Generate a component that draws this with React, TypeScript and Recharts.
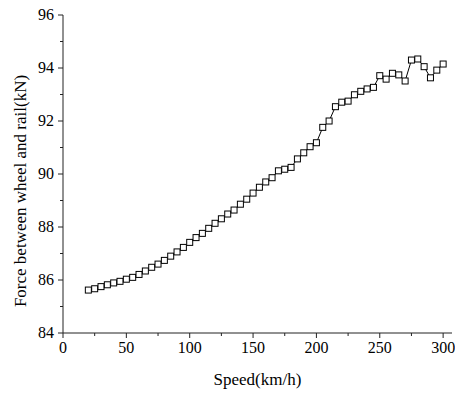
import { LineChart, Line, XAxis, YAxis, Label } from "recharts";

const speeds = [
  20, 25, 30, 35, 40, 45, 50, 55, 60, 65, 70, 75, 80, 85, 90, 95, 100, 105,
  110, 115, 120, 125, 130, 135, 140, 145, 150, 155, 160, 165, 170, 175, 180,
  185, 190, 195, 200, 205, 210, 215, 220, 225, 230, 235, 240, 245, 250, 255,
  260, 265, 270, 275, 280, 285, 290, 295, 300,
];

const forces = [
  85.62, 85.67, 85.75, 85.82, 85.89, 85.95, 86.03, 86.1, 86.21, 86.34, 86.48,
  86.6, 86.74, 86.9, 87.06, 87.23, 87.42, 87.6, 87.76, 87.95, 88.14, 88.31,
  88.49, 88.64, 88.86, 89.05, 89.28, 89.5, 89.7, 89.86, 90.12, 90.18, 90.25,
  90.57, 90.8, 91.03, 91.18, 91.76, 92.0, 92.54, 92.71, 92.75, 92.99, 93.12,
  93.21, 93.27, 93.71, 93.58, 93.8, 93.74, 93.51, 94.3, 94.34, 94.05, 93.63,
  93.92, 94.15,
];

const xTicks = [0, 25, 50, 75, 100, 125, 150, 175, 200, 225, 250, 275, 300];
const yTicks = [84, 85, 86, 87, 88, 89, 90, 91, 92, 93, 94, 95, 96];

const data = speeds.map((s, i) => ({ speed: s, force: forces[i] }));

const font = "'Liberation Serif', 'Times New Roman', serif";

function XTick({ x, y, payload }: any) {
  const major = payload.value % 50 === 0;
  return (
    <g>
      <line x1={x} x2={x} y1={y} y2={y + (major ? 5 : 3)} stroke="#222" />
      {major && (
        <text x={x} y={y + 20} textAnchor="middle" fontFamily={font} fontSize={16} fill="#000">
          {payload.value}
        </text>
      )}
    </g>
  );
}

function YTick({ x, y, payload }: any) {
  const major = payload.value % 2 === 0;
  return (
    <g>
      <line x1={x} x2={x - (major ? 5 : 3)} y1={y} y2={y} stroke="#222" />
      {major && (
        <text x={x - 9} y={y + 5} textAnchor="end" fontFamily={font} fontSize={16} fill="#000">
          {payload.value}
        </text>
      )}
    </g>
  );
}

function Square(props: any) {
  const { cx, cy, index } = props;
  return (
    <rect key={`sq-${index}`} x={cx - 3} y={cy - 3} width={6} height={6} fill="#fff" stroke="#000" strokeWidth={1} />
  );
}

export default function App() {
  return (
    <div style={{ position: "absolute", left: 0, top: 0, background: "#fff" }}>
      <LineChart width={455} height={394} data={data} margin={{ top: 15, right: 3, left: 0, bottom: 0 }}>
        <XAxis
          dataKey="speed"
          type="number"
          domain={[0, 307]}
          ticks={xTicks}
          interval={0}
          height={61}
          tickSize={0}
          tickMargin={0}
          tickLine={false}
          tick={<XTick />}
          axisLine={{ stroke: "#222", strokeWidth: 1 }}
          allowDataOverflow
        >
          <Label
            content={({ viewBox }: any) => (
              <text x={viewBox.x + viewBox.width / 2} y={385} textAnchor="middle" fontFamily={font} fontSize={17} fill="#000">
                Speed(km/h)
              </text>
            )}
          />
        </XAxis>
        <YAxis
          type="number"
          domain={[84, 96]}
          ticks={yTicks}
          interval={0}
          width={63}
          tickSize={0}
          tickMargin={0}
          tickLine={false}
          tick={<YTick />}
          axisLine={{ stroke: "#222", strokeWidth: 1 }}
          allowDataOverflow
        >
          <Label
            content={() => (
              <text x={20} y={191} transform="rotate(-90, 20, 191)" textAnchor="middle" dominantBaseline="central" fontFamily={font} fontSize={17} fill="#000">
                Force between wheel and rail(kN)
              </text>
            )}
          />
        </YAxis>
        <Line
          dataKey="force"
          type="linear"
          stroke="#000"
          strokeWidth={1}
          dot={Square}
          isAnimationActive={false}
        />
      </LineChart>
    </div>
  );
}
